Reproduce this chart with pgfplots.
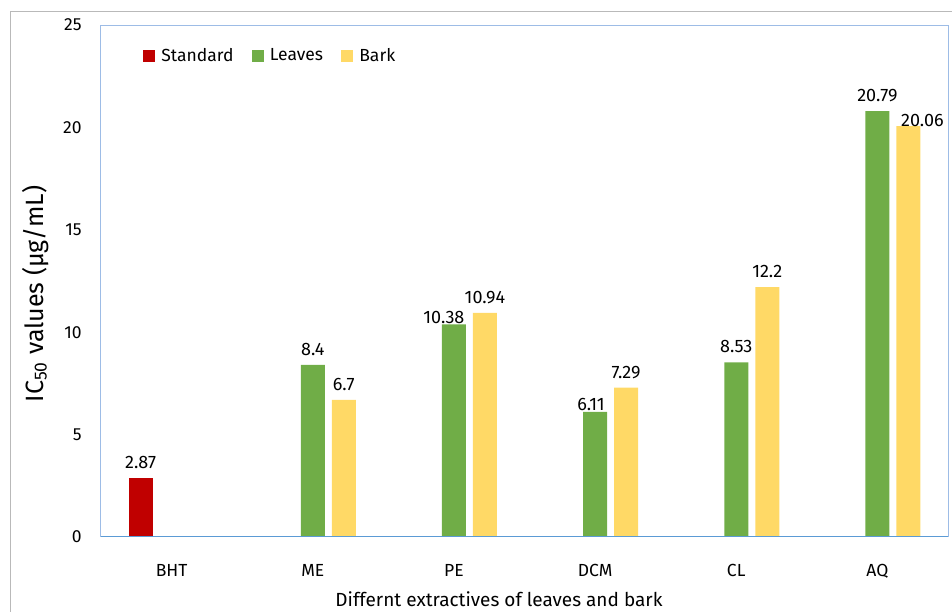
\documentclass[border=0pt]{standalone}
\usepackage{pgfplots}
\pgfplotsset{compat=1.18}
\usepackage{fontspec}
\setmainfont{Fira Sans}
\definecolor{cstd}{HTML}{C00000}
\definecolor{cleaf}{HTML}{70AD47}
\definecolor{cbark}{HTML}{FFD966}
\definecolor{cbox}{HTML}{9DBCE6}
\definecolor{cbase}{HTML}{5B9BD5}
\begin{document}
\begin{tikzpicture}
\draw[gray!55, line width=0.6pt] (6pt,-5pt) -- (6pt,360pt) -- (580pt,360pt);
\begin{axis}[
  at={(60.6pt,45pt)}, anchor=south west,
  scale only axis, width=508.2pt, height=307.2pt,
  xmin=-0.5, xmax=5.5, ymin=0, ymax=25,
  ytick={0,5,...,25}, xtick={0,...,5},
  xticklabels={BHT,ME,PE,DCM,CL,AQ},
  tick style={draw=none},
  axis line style={cbox, line width=0.6pt},
  /pgf/number format/assume math mode=true,
  ticklabel style={font=\fontsize{10.5}{12}\selectfont},
  yticklabel style={anchor=east, inner sep=0pt, xshift=-11.4pt},
  xticklabel style={anchor=north, inner sep=0pt, yshift=-12pt},
  ybar, bar width=14.4pt,
  every axis plot/.append style={draw=none},
  nodes near coords,
  every node near coord/.append style={font=\fontsize{10.8}{12}\selectfont, anchor=base, inner sep=0pt, text=black},
  visualization depends on={\thisrow{dx} \as \dx},
  visualization depends on={\thisrow{dy} \as \dy},
  legend columns=3,
  legend style={at={(0.0496,0.9395)}, anchor=west, draw=none, fill=none, inner sep=0pt,
    font=\fontsize{10.5}{12}\selectfont,
    /tikz/every odd column/.append style={column sep=3.6pt},
    /tikz/every even column/.append style={column sep=11pt},
    nodes={inner sep=0pt}},
  legend image code/.code={\fill[#1] (0pt,-3.6pt) rectangle (7.2pt,3.6pt);},
]
\addplot[fill=cstd, bar shift=-18.6pt, every node near coord/.append style={xshift=\dx pt, yshift=\dy pt}] table[x=x,y=y] {
x y dx dy
0 2.87 0 5.7
};
\addlegendentry{Standard}
\addplot[fill=cleaf, bar shift=0pt, every node near coord/.append style={xshift=\dx pt, yshift=\dy pt}] table[x=x,y=y] {
x y dx dy
1 8.4 0 5.7
2 10.38 -6 0.6
3 6.11 -2.4 0.6
4 8.53 0 5.7
5 20.79 0 5.7
};
\addlegendentry{Leaves}
\addplot[fill=cbark, bar shift=18.6pt, every node near coord/.append style={xshift=\dx pt, yshift=\dy pt}] table[x=x,y=y] {
x y dx dy
1 6.7 0 5.7
2 10.94 0 5.7
3 7.29 0 5.7
4 12.2 0 5.7
5 20.06 8.4 0
};
\addlegendentry{Bark}
\draw[cbase, line width=0.9pt] (rel axis cs:0,0) -- (rel axis cs:1,0);
\end{axis}
\node[rotate=90, anchor=base, inner sep=0pt, font=\fontsize{15}{18}\selectfont] at (25.8pt,190.8pt) {IC\textsubscript{50} values (µg/mL)};
\node[anchor=base, inner sep=0pt, font=\fontsize{11.4}{14}\selectfont] at (299.4pt,3.2pt) {Differnt extractives of leaves and bark};
\pgfresetboundingbox
\useasboundingbox (0,0) rectangle (571.2pt,367.2pt);
\end{tikzpicture}
\end{document}
